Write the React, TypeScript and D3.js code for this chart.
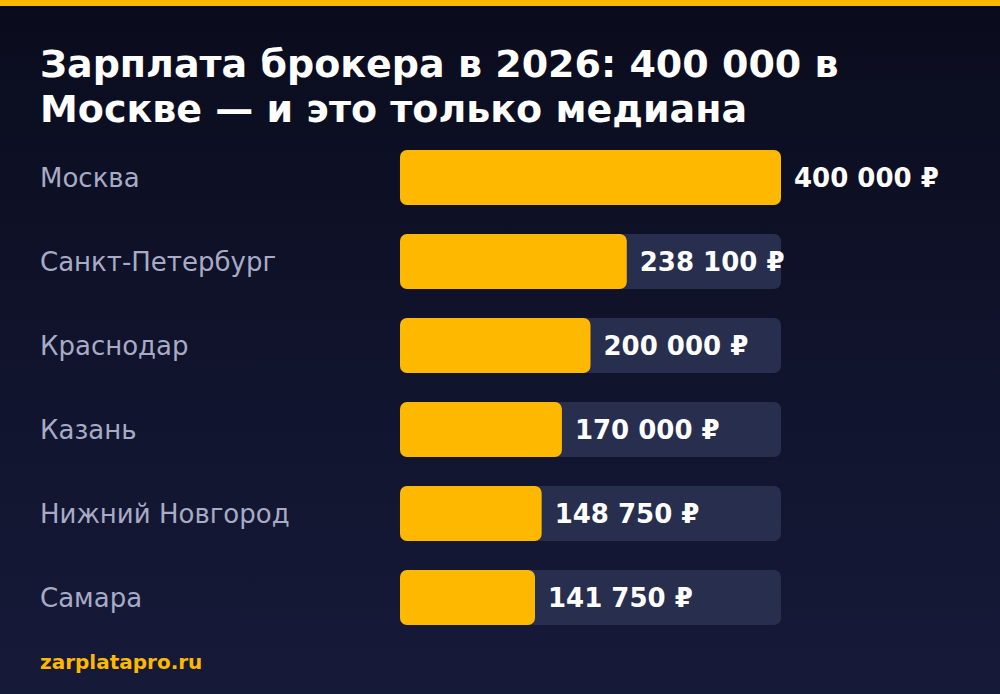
import React, { useEffect, useRef } from "react";
import * as d3 from "d3";

const cities = [
  "Москва",
  "Санкт-Петербург",
  "Краснодар",
  "Казань",
  "Нижний Новгород",
  "Самара",
];
const salaries = [400000, 238100, 200000, 170000, 148750, 141750];
const titleLines = [
  "Зарплата брокера в 2026: 400 000 в",
  "Москве — и это только медиана",
];
const sourceText = "zarplatapro.ru";

const W = 1000;
const H = 694;
const FONT = "'DejaVu Sans', sans-serif";

const fmt = (v: number) =>
  d3.format(",")(v).replace(/,/g, " ") + " ₽";

const App: React.FC = () => {
  const svgRef = useRef<SVGSVGElement>(null);

  useEffect(() => {
    document.body.style.margin = "0";
    const svg = d3.select(svgRef.current);
    svg.selectAll("*").remove();

    // background gradient
    const defs = svg.append("defs");
    const grad = defs
      .append("linearGradient")
      .attr("id", "bg")
      .attr("x1", 0)
      .attr("y1", 0)
      .attr("x2", 0)
      .attr("y2", 1);
    grad.append("stop").attr("offset", "0%").attr("stop-color", "#0a0c1d");
    grad.append("stop").attr("offset", "100%").attr("stop-color", "#161a39");

    svg.append("rect").attr("width", W).attr("height", H).attr("fill", "url(#bg)");
    svg.append("rect").attr("width", W).attr("height", 6).attr("fill", "#ffb800");

    // title
    svg
      .append("g")
      .selectAll("text")
      .data(titleLines)
      .join("text")
      .attr("x", 40)
      .attr("y", (_, i) => 77 + i * 45)
      .attr("fill", "#ffffff")
      .attr("font-family", FONT)
      .attr("font-weight", "bold")
      .attr("font-size", 38)
      .text(d => d);

    // scales: rows 84px apart, bars 55px tall
    const x = d3.scaleLinear().domain([0, d3.max(salaries) as number]).range([400, 781]);
    const y = d3
      .scaleBand<string>()
      .domain(cities)
      .range([150, 150 + 84 * cities.length - 29])
      .paddingInner(29 / 84)
      .paddingOuter(0);
    const bh = y.bandwidth();

    const rows = svg
      .append("g")
      .selectAll("g")
      .data(cities)
      .join("g")
      .attr("transform", d => `translate(0, ${y(d)})`);

    rows
      .append("text")
      .attr("x", 40)
      .attr("y", bh / 2)
      .attr("dy", "0.35em")
      .attr("fill", "#a7abc6")
      .attr("font-family", FONT)
      .attr("font-size", 26)
      .text(d => d);

    rows
      .append("rect")
      .attr("x", x(0))
      .attr("width", x.range()[1] - x(0))
      .attr("height", bh)
      .attr("rx", 7)
      .attr("fill", "#282e4e");

    rows
      .append("rect")
      .attr("x", x(0))
      .attr("width", (_, i) => x(salaries[i]) - x(0))
      .attr("height", bh)
      .attr("rx", 7)
      .attr("fill", "#ffb800");

    rows
      .append("text")
      .attr("x", (_, i) => x(salaries[i]) + 13)
      .attr("y", bh / 2)
      .attr("dy", "0.35em")
      .attr("fill", "#ffffff")
      .attr("font-family", FONT)
      .attr("font-weight", "bold")
      .attr("font-size", 26)
      .text((_, i) => fmt(salaries[i]));

    svg
      .append("text")
      .attr("x", 40)
      .attr("y", 669)
      .attr("fill", "#ffb800")
      .attr("font-family", FONT)
      .attr("font-weight", "bold")
      .attr("font-size", 20)
      .text(sourceText);
  }, []);

  return (
    <svg
      ref={svgRef}
      width={W}
      height={H}
      viewBox={`0 0 ${W} ${H}`}
      style={{ display: "block", position: "absolute", left: 0, top: 0 }}
    />
  );
};

export default App;
